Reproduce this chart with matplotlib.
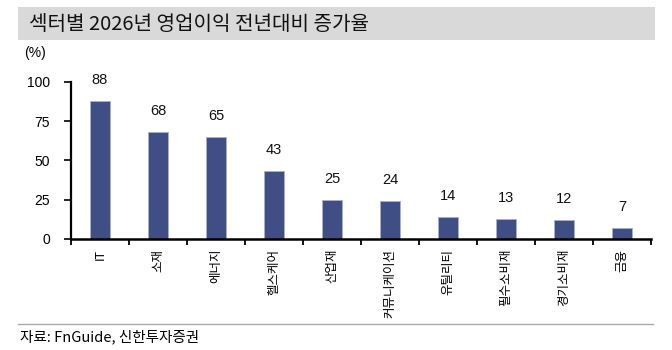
import matplotlib
matplotlib.use("Agg")
import matplotlib.pyplot as plt
from matplotlib.patches import Rectangle

plt.rcParams['font.family'] = ['Noto Sans CJK KR', 'DejaVu Sans']
NUM_FONT = ['Liberation Sans', 'DejaVu Sans']

title = "섹터별 2026년 영업이익 전년대비 증가율"
source = "자료: FnGuide, 신한투자증권"
unit = "(%)"
sectors = ["IT", "소재", "에너지", "헬스케어", "산업재", "커뮤니케이션",
           "유틸리티", "필수소비재", "경기소비재", "금융"]
growth = [88, 68, 65, 43, 25, 24, 14, 13, 12, 7]
yticks = [0, 25, 50, 75, 100]

W, H = 672, 350
fig = plt.figure(figsize=(W / 100, H / 100), dpi=100)
fig.patch.set_facecolor("white")

# title band
fig.patches.append(Rectangle((18 / W, 1 - 40 / H), (655 - 18) / W, 33 / H,
                             transform=fig.transFigure, facecolor="#d9d9d9",
                             edgecolor="none", zorder=0))
fig.text(29 / W, 1 - 24 / H, title, fontsize=14.5, va="center", ha="left",
         color="#111111")

ax = fig.add_axes([71 / W, 1 - 239 / H, (651 - 71) / W, (239 - 81.7) / H])
x = list(range(len(sectors)))
ax.bar(x, growth, width=0.33, color="#3f4f86", edgecolor="#a9b0cc",
       linewidth=0.6, zorder=2)
for xi, v in zip(x, growth):
    ax.annotate(f"{v}", (xi, v), xytext=(0, 10), textcoords="offset points",
                ha="center", va="bottom", fontsize=10.5, color="#111111",
                family=NUM_FONT)

ax.set_xlim(-0.5, len(sectors) - 0.5)
ax.set_ylim(0, 100)
ax.set_yticks(yticks)
ax.set_yticklabels([str(t) for t in yticks], fontsize=10, family=NUM_FONT)
ax.set_xticks([i + 0.5 for i in range(-1, len(sectors))], minor=False)
ax.set_xticklabels([])
ax.set_xticks(x, minor=True)
ax.set_xticklabels(sectors, minor=True, rotation=90, fontsize=9, va="top",
                   ha="center")
ax.tick_params(axis="x", which="major", direction="out", length=4, width=1.3)
ax.tick_params(axis="x", which="minor", length=0, pad=7)
ax.tick_params(axis="y", direction="out", length=5, width=1.2, pad=10)
for s in ["top", "right"]:
    ax.spines[s].set_visible(False)
ax.spines["bottom"].set_linewidth(1.8)
ax.spines["left"].set_linewidth(1.6)

fig.text(24 / W, 1 - 53 / H, unit, fontsize=10, va="center", ha="left",
         family=NUM_FONT)

# footer rule and source
fig.add_artist(plt.Line2D([18 / W, 653 / W], [1 - 324 / H, 1 - 324 / H],
                          transform=fig.transFigure, color="#aaaaaa", lw=1))
fig.text(20 / W, 1 - 337 / H, source, fontsize=10.5, va="center", ha="left")

fig.savefig("out.png", dpi=100)
